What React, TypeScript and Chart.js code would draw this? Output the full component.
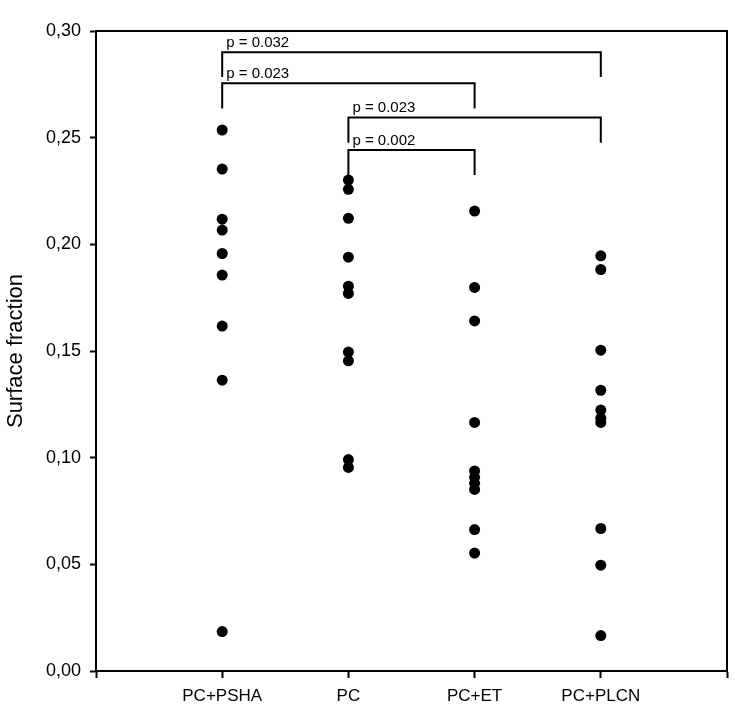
import React, { useEffect, useRef } from "react";
import { Chart, registerables } from "chart.js";

Chart.register(...registerables);

const categories = ["PC+PSHA", "PC", "PC+ET", "PC+PLCN"];

const pcPsha = [0.2536, 0.2353, 0.2118, 0.2067, 0.1957, 0.1856, 0.1617, 0.1363, 0.0185];
const pc = [0.2301, 0.2258, 0.2122, 0.194, 0.1804, 0.177, 0.1495, 0.1454, 0.0991, 0.0954];
const pcEt = [0.2156, 0.1798, 0.1641, 0.1165, 0.0938, 0.0908, 0.088, 0.0851, 0.0663, 0.0553];
const pcPlcn = [0.1946, 0.1882, 0.1504, 0.1316, 0.1223, 0.1185, 0.1165, 0.0668, 0.0496, 0.0166];

const seriesValues = [pcPsha, pc, pcEt, pcPlcn];

const yTicksMin = 0;
const yTicksMax = 0.3;
const yTicksStep = 0.05;

const bracketFrom = [0, 0, 1, 1];
const bracketTo = [3, 2, 3, 2];
const bracketTop = [0.29, 0.2755, 0.2595, 0.2442];
const bracketLeg = [0.2784, 0.2637, 0.2476, 0.2325];
const bracketLabels = ["p = 0.032", "p = 0.023", "p = 0.023", "p = 0.002"];

const FONT = "'Liberation Sans', Arial, Helvetica, sans-serif";

const bracketPlugin = {
  id: "brackets",
  afterDatasetsDraw(chart: any) {
    const ctx = chart.ctx;
    const xs = chart.scales.x;
    const ys = chart.scales.y;
    ctx.save();
    ctx.strokeStyle = "#000";
    ctx.fillStyle = "#000";
    ctx.lineWidth = 2;
    ctx.lineCap = "butt";
    ctx.lineJoin = "miter";
    ctx.font = `15px ${FONT}`;
    ctx.textBaseline = "alphabetic";
    ctx.textAlign = "left";
    for (let i = 0; i < bracketFrom.length; i++) {
      const x1 = xs.getPixelForValue(bracketFrom[i]);
      const x2 = xs.getPixelForValue(bracketTo[i]);
      const yt = ys.getPixelForValue(bracketTop[i]);
      const yl = ys.getPixelForValue(bracketLeg[i]);
      ctx.beginPath();
      ctx.moveTo(x1, yl);
      ctx.lineTo(x1, yt);
      ctx.lineTo(x2, yt);
      ctx.lineTo(x2, yl);
      ctx.stroke();
      ctx.fillText(bracketLabels[i], x1 + 4, yt - 5.5);
    }
    ctx.restore();
  },
};

const framePlugin = {
  id: "frame",
  afterDraw(chart: any) {
    const { ctx, chartArea } = chart;
    ctx.save();
    ctx.strokeStyle = "#000";
    ctx.lineWidth = 2;
    ctx.beginPath();
    ctx.moveTo(chartArea.left, chartArea.top);
    ctx.lineTo(chartArea.right, chartArea.top);
    ctx.lineTo(chartArea.right, chartArea.bottom);
    ctx.stroke();
    ctx.restore();
  },
};

export default function App() {
  const ref = useRef<HTMLCanvasElement | null>(null);

  useEffect(() => {
    if (!ref.current) return;
    Chart.defaults.font.family = FONT;
    const datasets = seriesValues.map((vals, ci) => ({
      label: categories[ci],
      data: vals.map((v) => ({ x: ci, y: v })),
      pointRadius: 5.5,
      pointHoverRadius: 5.5,
      backgroundColor: "#000",
      borderColor: "#000",
      borderWidth: 0,
      showLine: false,
    }));
    const chart = new Chart(ref.current, {
      type: "scatter",
      data: { datasets },
      plugins: [bracketPlugin, framePlugin],
      options: {
        animation: false,
        responsive: false,
        layout: { padding: { top: 31, right: 8, left: 0, bottom: 0 } },
        plugins: {
          legend: { display: false },
          tooltip: { enabled: false },
        },
        scales: {
          x: {
            type: "linear",
            min: -1,
            max: categories.length,
            afterFit: (s: any) => {
              s.height = 50;
            },
            afterBuildTicks: (s: any) => {
              const t = [];
              for (let i = -1; i <= categories.length; i++) t.push({ value: i });
              s.ticks = t;
            },
            ticks: {
              autoSkip: false,
              maxRotation: 0,
              color: "#000",
              padding: 8,
              font: { size: 17 },
              callback: (v: any) => categories[v as number] ?? "",
            },
            grid: {
              drawOnChartArea: false,
              drawTicks: true,
              tickLength: 7,
              tickWidth: 2,
              tickColor: "#000",
            },
            border: { display: true, color: "#000", width: 2 },
          },
          y: {
            type: "linear",
            min: yTicksMin,
            max: yTicksMax,
            afterFit: (s: any) => {
              s.width = 96;
            },
            ticks: {
              stepSize: yTicksStep,
              color: "#000",
              padding: 9,
              font: { size: 18 },
              callback: (v: any) => Number(v).toFixed(2).replace(".", ","),
            },
            grid: {
              drawOnChartArea: false,
              drawTicks: true,
              tickLength: 6,
              tickWidth: 2,
              tickColor: "#000",
            },
            border: { display: true, color: "#000", width: 2 },
            title: {
              display: true,
              text: "Surface fraction",
              color: "#000",
              font: { size: 22 },
              padding: { top: 3, bottom: 0 },
            },
          },
        },
      },
    });
    return () => chart.destroy();
  }, []);

  return (
    <div style={{ position: "absolute", left: 0, top: 0, width: 735, height: 721, background: "#fff" }}>
      <canvas ref={ref} width={735} height={721} style={{ display: "block" }} />
    </div>
  );
}
